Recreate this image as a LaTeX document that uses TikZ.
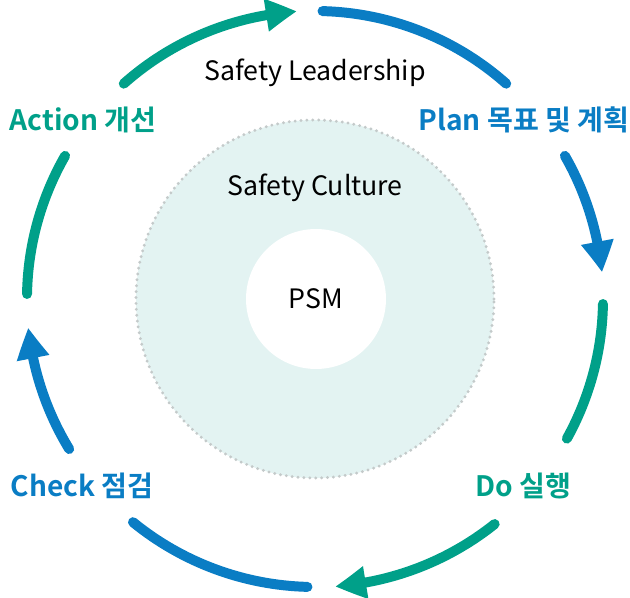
\documentclass[tikz,border=0pt]{standalone}
\usepackage{fontspec}
\setmainfont{Noto Sans CJK KR}[BoldFont={Noto Sans CJK KR Bold}]
\usetikzlibrary{arrows.meta,bending,positioning}
\definecolor{pdcablue}{RGB}{10,125,196}
\definecolor{pdcagreen}{RGB}{0,160,137}
\definecolor{culturefill}{RGB}{227,243,242}
\definecolor{culturedots}{RGB}{196,202,202}
\tikzset{
    cyclearc/.style={line width=7.1pt, line cap=round},
    bluearc/.style={cyclearc, draw=pdcablue},
    greenarc/.style={cyclearc, draw=pdcagreen},
    headarc/.style={-{Triangle[length=22pt,width=22pt,bend]}},
    steplabel/.style={font=\bfseries\fontsize{20}{24}\selectfont},
    ringlabel/.style={font=\fontsize{19}{22}\selectfont},
}
\newcommand{\R}{7.2}

\begin{document}
\begin{tikzpicture}
    \useasboundingbox (-7.875,-7.475) rectangle (7.875,7.475);
    \coordinate (ctr) at (0,0);
    % circles in the middle
    \fill[culturefill] (ctr) circle (4.475);
    \draw[culturedots, line width=2.3pt, line cap=round, dash pattern=on 0pt off 4.2pt] (ctr) circle (4.475);
    \fill[white] (0.025,0) circle (1.75);
    \node[ringlabel] (psm) at (0.025,0) {PSM};
    \node[ringlabel] (culture) at (0,2.775) {Safety Culture};
    \node[ringlabel] (leadership) at (0,5.65) {Safety Leadership};
    % step labels
    \node[steplabel, text=pdcablue]  (plan)   at (5.225,4.475)  {Plan 목표 및 계획};
    \node[steplabel, text=pdcagreen] (do)     at (5.2,-4.675)   {Do 실행};
    \node[steplabel, text=pdcablue]  (check)  at (-5.825,-4.675) {Check 점검};
    \node[steplabel, text=pdcagreen] (action) at (-5.8,4.475)   {Action 개선};
    % the cycle
    \draw[bluearc] ([shift={(88.5:\R)}]ctr) arc[start angle=88.5, end angle=48.4, radius=\R];
    \draw[bluearc, headarc] ([shift={(29.8:\R)}]ctr) arc[start angle=29.8, end angle=5.3, radius=\R];
    \draw[greenarc] ([shift={(-1:\R)}]ctr) arc[start angle=-1, end angle=-29, radius=\R];
    \draw[greenarc, headarc] ([shift={(-51.4:\R)}]ctr) arc[start angle=-51.4, end angle=-86, radius=\R];
    \draw[bluearc] ([shift={(-91.5:\R)}]ctr) arc[start angle=-91.5, end angle=-129.2, radius=\R];
    \draw[bluearc, headarc] ([shift={(-148.6:\R)}]ctr) arc[start angle=-148.6, end angle=-174.3, radius=\R];
    \draw[greenarc] ([shift={(179:\R)}]ctr) arc[start angle=179, end angle=150.2, radius=\R];
    \draw[greenarc, headarc] ([shift={(131.6:\R)}]ctr) arc[start angle=131.6, end angle=93.6, radius=\R];
\end{tikzpicture}
\end{document}
